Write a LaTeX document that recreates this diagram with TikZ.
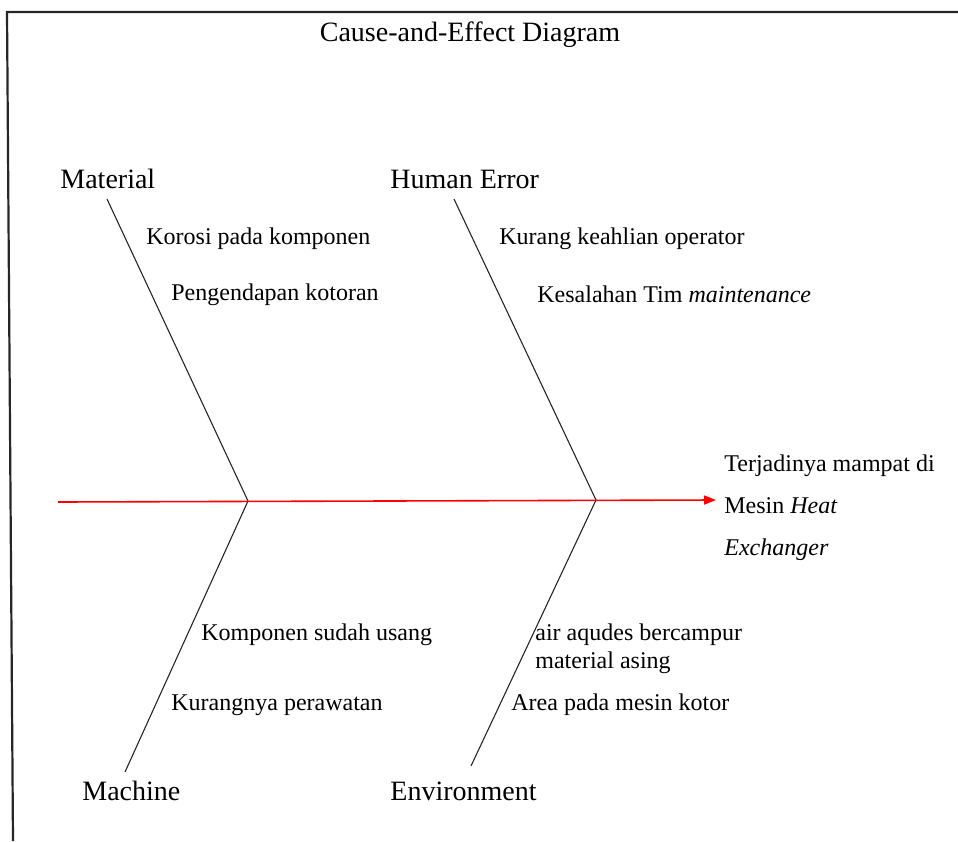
\documentclass[tikz,border=0pt]{standalone}
\usepackage{fontspec}
\setmainfont{Liberation Serif}
\usetikzlibrary{arrows.meta}

\begin{document}
\begin{tikzpicture}[
  x=0.5pt, y=-0.5pt,
  cat/.style={anchor=west, inner sep=0pt, font=\fontsize{14}{17}\selectfont},
  cause/.style={anchor=west, inner sep=0pt, font=\fontsize{12}{14}\selectfont, align=left},
  bone/.style={draw=black!85, line width=0.55pt},
  spine/.style={draw=red, line width=0.8pt, -{Triangle[length=6pt, width=4.5pt]}},
]
  \useasboundingbox (0,0) rectangle (958,841);
  % frame
  \draw[line width=1.1pt, black!85] (958,12) -- (7,12) -- (13,841);

  \node[cat, anchor=center] (title) at (470,35) {Cause-and-Effect Diagram};
  \node[cat] (material) at (60,179) {Material};
  \node[cat] (human) at (390,179) {Human Error};
  \node[cat] (machine) at (82,791) {Machine};
  \node[cat] (environment) at (390,791) {Environment};

  % spine and joints
  \coordinate (tail) at (58,502);
  \coordinate (j1) at (248,501);
  \coordinate (j2) at (596,500);
  \coordinate (head) at (716,500);
  % bone ends
  \coordinate (matEnd) at (107,199);
  \coordinate (humEnd) at (454,199);
  \coordinate (macEnd) at (125,772);
  \coordinate (envEnd) at (471,766);

  \draw[bone] (matEnd) -- (j1) -- (macEnd);
  \draw[bone] (humEnd) -- (j2) -- (envEnd);
  \draw[spine] (tail) -- (head);

  % causes
  \node[cause] (korosi) at (146,239) {Korosi pada komponen};
  \node[cause] (endapan) at (171,295) {Pengendapan kotoran};
  \node[cause] (keahlian) at (499,239) {Kurang keahlian operator};
  \node[cause] (tim) at (537,294) {Kesalahan Tim \textit{maintenance}};
  \node[cause] (usang) at (201,635) {Komponen sudah usang};
  \node[cause] (rawat) at (171,705) {Kurangnya perawatan};
  \node[cause] (aqudes) at (535,649) {air aqudes bercampur\\material asing};
  \node[cause] (area) at (511,705) {Area pada mesin kotor};

  % effect
  \node[cause, anchor=north west, font=\fontsize{12}{21}\selectfont] (effect) at (724,454)
    {Terjadinya mampat di\\Mesin \textit{Heat}\\\textit{Exchanger}};
\end{tikzpicture}
\end{document}
